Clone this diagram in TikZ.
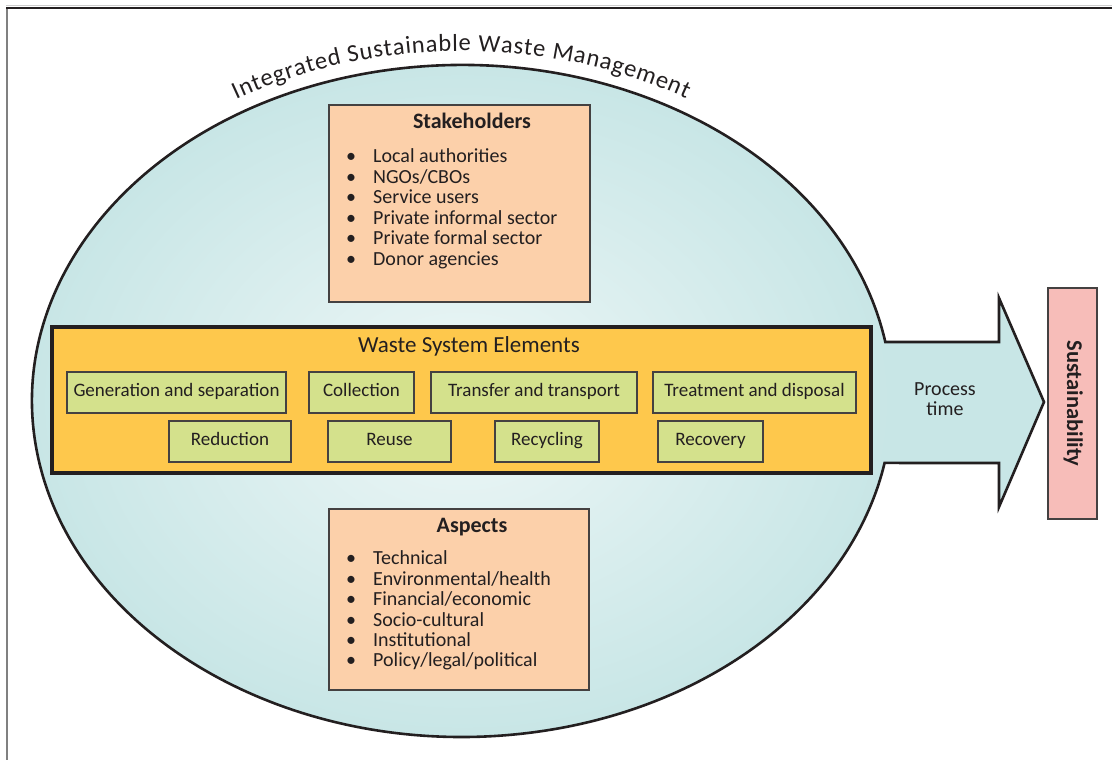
\documentclass[tikz,border=0pt]{standalone}
\usepackage{fontspec}
\setmainfont{Carlito}
\setsansfont{Carlito}
\usetikzlibrary{decorations.text}
\definecolor{ink}{RGB}{35,31,32}
\definecolor{peach}{RGB}{252,208,170}
\definecolor{gold}{RGB}{254,200,76}
\definecolor{lime}{RGB}{212,225,140}
\definecolor{pinkbox}{RGB}{247,189,185}
\definecolor{cyanout}{RGB}{200,230,230}
\definecolor{cyanin}{RGB}{238,247,247}
\definecolor{framegray}{RGB}{128,128,128}
\begin{document}
\begin{tikzpicture}[x=1pt,y=1pt,
  every node/.style={text=ink, inner sep=0pt},
  peachbox/.style={draw=ink!85, line width=1.2pt, fill=peach, rectangle},
  elem/.style={draw=ink!85, line width=1.1pt, fill=lime, rectangle, minimum height=41pt,
    font=\fontsize{19}{19}\selectfont, text height=13pt, text depth=4pt},
  goldbox/.style={draw=ink, line width=3.2pt, fill=gold, rectangle},
  susbox/.style={draw=ink!85, line width=1.2pt, fill=pinkbox, rectangle,
    font=\bfseries\fontsize{22.5}{22.5}\selectfont, text height=15pt, text depth=4pt},
  boxtitle/.style={anchor=base, font=\bfseries\fontsize{22}{22}\selectfont},
  listitem/.style={anchor=base west, font=\fontsize{20}{20}\selectfont},
  outline/.style={draw=ink, line width=2.6pt, line join=miter}
]
\useasboundingbox (0,0) rectangle (1112,760);
% frame
\draw[framegray, line width=2pt] (7,752) -- (7,0);
\draw[framegray!40, line width=1pt] (6,754) -- (1112,754);
\draw[ink, line width=1.8pt] (6,752) -- (1112,752);
% ellipse + arrow body
\fill[cyanout] (885.3,418) arc[start angle=10.11, end angle=349.37, x radius=430, y radius=336]
  -- (999,297) -- (999,253) -- (1044,358) -- (999,462) -- (999,418) -- cycle;
\shade[inner color=cyanin, outer color=cyanout] (462,359) ellipse [x radius=430, y radius=336];
\path[outline] (885.3,418) arc[start angle=10.11, end angle=349.37, x radius=430, y radius=336]
  -- (999,297) -- (999,253) -- (1044,358) -- (999,462) -- (999,418) -- cycle;
% arc title
\path[decorate, decoration={text along path, text align={fit to path}, text color=ink,
  text={|\fontsize{24.5}{24.5}\selectfont|Integrated Sustainable Waste Management}}]
  (236.2,660.6) arc[start angle=120.5, end angle=59.8, x radius=445, y radius=350];
% stakeholders
\node[peachbox, minimum width=261pt, minimum height=197pt] (stk) at (459.5,556.5) {};
\node[boxtitle] (stkt) at (472,631) {Stakeholders};
\foreach \t [count=\i] in {Local authorities,NGOs/CBOs,Service users,Private informal sector,Private formal sector,Donor agencies}
  \node[listitem] (st\i) at (346,{597-20.5*(\i-1)}) {\makebox[27pt][l]{•}\t};
% aspects
\node[peachbox, minimum width=260pt, minimum height=181pt] (asp) at (459,160.5) {};
\node[boxtitle] (aspt) at (472,227) {Aspects};
\foreach \t [count=\i] in {Technical,Environmental/health,Financial/economic,Socio-cultural,Institutional,Policy/legal/political}
  \node[listitem] (as\i) at (346,{195-20.4*(\i-1)}) {\makebox[27pt][l]{•}\t};
% waste system elements
\node[goldbox, minimum width=819pt, minimum height=146pt] (wse) at (461.5,360) {};
\node[anchor=base, font=\fontsize{23}{23}\selectfont] (wset) at (469,407) {Waste System Elements};
\node[elem, minimum width=219pt] (gen) at (176.5,367.5) {Generation and separation};
\node[elem, minimum width=105pt] (col) at (361.5,367.5) {Collection};
\node[elem, minimum width=206pt] (tra) at (534,367.5) {Transfer and transport};
\node[elem, minimum width=203pt] (tre) at (754.5,367.5) {Treatment and disposal};
\node[elem, minimum width=122pt] (red) at (230,318.5) {Reduction};
\node[elem, minimum width=123pt] (reu) at (389.5,318.5) {Reuse};
\node[elem, minimum width=104pt] (rec) at (547,318.5) {Recycling};
\node[elem, minimum width=105pt] (rcv) at (710.5,318.5) {Recovery};
% process time
\node[font=\fontsize{20}{20}\selectfont, align=center] (ptime) at (945,361) {Process\\time};
% sustainability
\node[susbox, rotate=-90, minimum width=231pt, minimum height=49pt] (sus) at (1072.5,356.5) {Sustainability};
\end{tikzpicture}
\end{document}
